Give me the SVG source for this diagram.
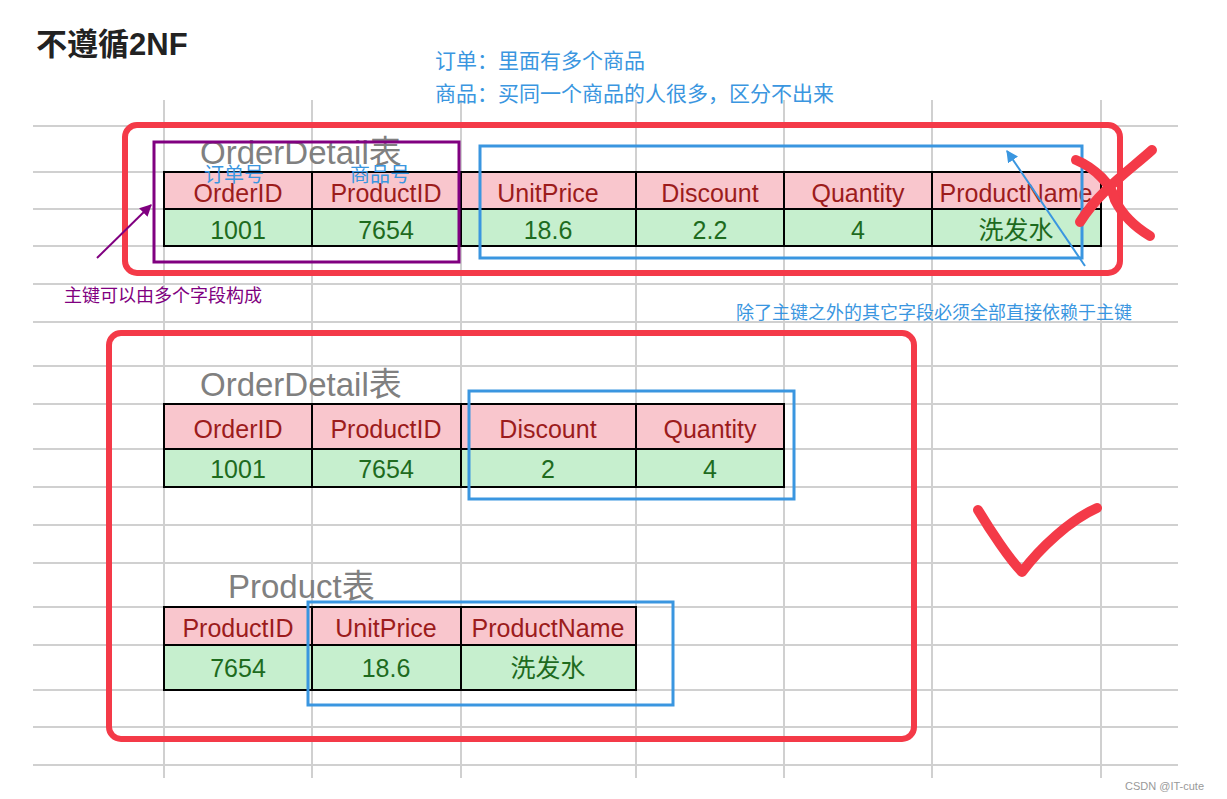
<svg xmlns="http://www.w3.org/2000/svg" width="1227" height="799" viewBox="0 0 1227 799">
<defs>
<style>
.g{stroke:#d0d0d0;stroke-width:2}
.h{fill:#f9c6cd;stroke:#000;stroke-width:2}
.d{fill:#c6efce;stroke:#000;stroke-width:2}
.ht{font-family:"Liberation Sans",sans-serif;font-size:25px;fill:#9c1c1c;text-anchor:middle}
.dt{font-family:"Liberation Sans","Noto Sans CJK SC",sans-serif;font-size:25px;fill:#1e6b1e;text-anchor:middle}
.tt{font-family:"Liberation Sans","Noto Sans CJK SC",sans-serif;font-size:33px;fill:#808080}
.red{fill:none;stroke:#f43a48;stroke-width:6}
.blue{fill:none;stroke:#3a96e0;stroke-width:3}
.bt{font-family:"Noto Sans CJK SC",sans-serif;fill:#3a96e0}
</style>
<marker id="ap" viewBox="0 0 10 10" refX="9" refY="5" markerWidth="6" markerHeight="6" orient="auto"><path d="M0,0L10,5L0,10z" fill="#800080"/></marker>
<marker id="ab" viewBox="0 0 10 10" refX="9" refY="5" markerWidth="6" markerHeight="6" orient="auto"><path d="M0,0L10,5L0,10z" fill="#3a96e0"/></marker>
</defs>
<rect width="1227" height="799" fill="#fff"/>
<g id="grid">
<path class="g" d="M33,126H1178M33,172H1178M33,209H1178M33,246H1178M33,284H1178M33,322H1178M33,366H1178M33,404H1178M33,449H1178M33,487H1178M33,525H1178M33,563H1178M33,607H1178M33,645H1178M33,690H1178M33,727H1178M33,765H1178"/>
<path class="g" d="M164,100V778M312,100V778M461,100V778M636,100V778M784,100V778M932,100V778M1101,100V778"/>
</g>
<text x="36" y="55" font-family="'Liberation Sans','Noto Sans CJK SC',sans-serif" font-size="31" font-weight="bold" fill="#222">不遵循2NF</text>
<text class="bt" x="435" y="68" font-size="21">订单：里面有多个商品</text>
<text class="bt" x="435" y="101" font-size="21">商品：买同一个商品的人很多，区分不出来</text>
<g id="table1">
<text class="tt" x="200" y="164">OrderDetail表</text>
<rect class="h" x="164" y="172" width="148" height="37"/><rect class="h" x="312" y="172" width="149" height="37"/><rect class="h" x="461" y="172" width="175" height="37"/><rect class="h" x="636" y="172" width="148" height="37"/><rect class="h" x="784" y="172" width="148" height="37"/><rect class="h" x="932" y="172" width="169" height="37"/>
<rect class="d" x="164" y="209" width="148" height="37"/><rect class="d" x="312" y="209" width="149" height="37"/><rect class="d" x="461" y="209" width="175" height="37"/><rect class="d" x="636" y="209" width="148" height="37"/><rect class="d" x="784" y="209" width="148" height="37"/><rect class="d" x="932" y="209" width="169" height="37"/>
<text class="ht" x="238" y="202">OrderID</text><text class="ht" x="386" y="202">ProductID</text><text class="ht" x="548" y="202">UnitPrice</text><text class="ht" x="710" y="202">Discount</text><text class="ht" x="858" y="202">Quantity</text><text class="ht" x="1016" y="202">ProductName</text>
<text class="dt" x="238" y="239">1001</text><text class="dt" x="386" y="239">7654</text><text class="dt" x="548" y="239">18.6</text><text class="dt" x="710" y="239">2.2</text><text class="dt" x="858" y="239">4</text><text class="dt" x="1016" y="239">洗发水</text>
<text class="bt" x="204" y="182" font-size="20">订单号</text><text class="bt" x="350" y="182" font-size="20">商品号</text>
</g>
<g id="table2">
<text class="tt" x="200" y="396">OrderDetail表</text>
<rect class="h" x="164" y="404" width="148" height="45"/><rect class="h" x="312" y="404" width="149" height="45"/><rect class="h" x="461" y="404" width="175" height="45"/><rect class="h" x="636" y="404" width="148" height="45"/>
<rect class="d" x="164" y="449" width="148" height="38"/><rect class="d" x="312" y="449" width="149" height="38"/><rect class="d" x="461" y="449" width="175" height="38"/><rect class="d" x="636" y="449" width="148" height="38"/>
<text class="ht" x="238" y="438">OrderID</text><text class="ht" x="386" y="438">ProductID</text><text class="ht" x="548" y="438">Discount</text><text class="ht" x="710" y="438">Quantity</text>
<text class="dt" x="238" y="478">1001</text><text class="dt" x="386" y="478">7654</text><text class="dt" x="548" y="478">2</text><text class="dt" x="710" y="478">4</text>
</g>
<g id="table3">
<text class="tt" x="228" y="598">Product表</text>
<rect class="h" x="164" y="607" width="148" height="38"/><rect class="h" x="312" y="607" width="149" height="38"/><rect class="h" x="461" y="607" width="175" height="38"/>
<rect class="d" x="164" y="645" width="148" height="45"/><rect class="d" x="312" y="645" width="149" height="45"/><rect class="d" x="461" y="645" width="175" height="45"/>
<text class="ht" x="238" y="637">ProductID</text><text class="ht" x="386" y="637">UnitPrice</text><text class="ht" x="548" y="637">ProductName</text>
<text class="dt" x="238" y="677">7654</text><text class="dt" x="386" y="677">18.6</text><text class="dt" x="548" y="677">洗发水</text>
</g>
<g id="boxes">
<rect class="red" x="125" y="125" width="995" height="148" rx="12"/>
<rect class="red" x="109" y="333" width="805" height="406" rx="12"/>
<rect x="154" y="142" width="305" height="120" fill="none" stroke="#800080" stroke-width="3"/>
<rect class="blue" x="480" y="146" width="602" height="112"/>
<rect class="blue" x="469" y="391" width="325" height="108"/>
<rect class="blue" x="308" y="602" width="365" height="103"/>
<path d="M1076,160C1095,168 1112,185 1115,200C1125,220 1140,230 1150,236M1152,150C1130,170 1100,190 1080,222" fill="none" stroke="#f43a48" stroke-width="10" stroke-linecap="round"/>
<path d="M978,510C990,530 1010,560 1022,572C1040,548 1070,520 1097,508" fill="none" stroke="#f43a48" stroke-width="10" stroke-linecap="round" stroke-linejoin="round"/>
</g>
<g id="connectors">
<line x1="97" y1="258" x2="151" y2="205" stroke="#800080" stroke-width="2" marker-end="url(#ap)"/>
<line x1="1085" y1="266" x2="1007" y2="151" stroke="#3a96e0" stroke-width="2" marker-end="url(#ab)"/>
</g>
<text x="64" y="302" font-family="'Noto Sans CJK SC',sans-serif" font-size="18" fill="#800080">主键可以由多个字段构成</text>
<text class="bt" x="736" y="319" font-size="18">除了主键之外的其它字段必须全部直接依赖于主键</text>
<text x="1125" y="790" font-family="'Liberation Sans',sans-serif" font-size="11" fill="#999">CSDN @IT-cute</text>
</svg>
